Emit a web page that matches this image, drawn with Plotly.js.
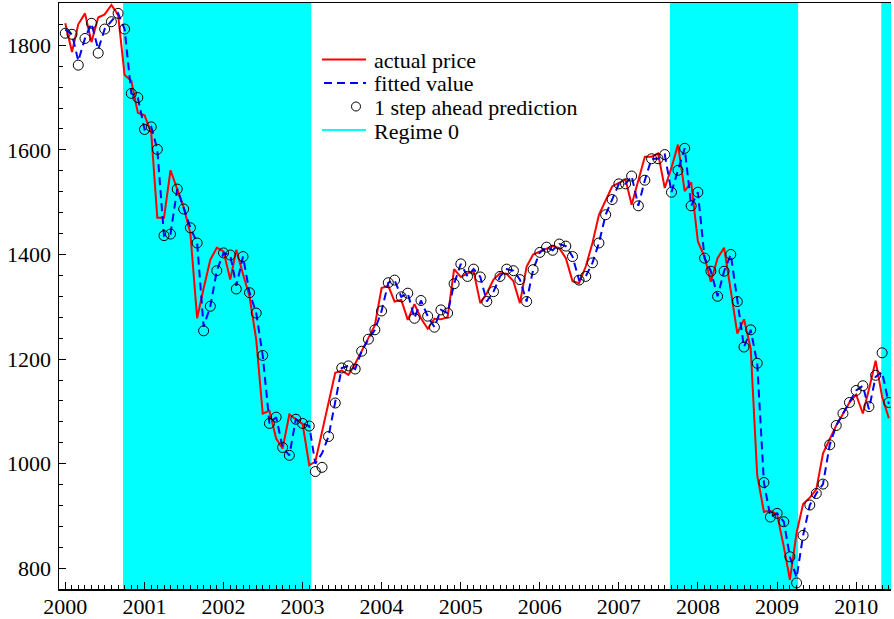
<!DOCTYPE html>
<html><head><meta charset="utf-8">
<script src="https://cdn.plot.ly/plotly-3.0.1.min.js"></script>
<style>html,body{margin:0;padding:0;background:#fff}#chart{width:894px;height:619px}</style>
</head><body><div id="chart"></div>
<script>
// Monthly observations, Jan 2000 .. Jun 2010
const firstYear = 2000;
const actualPrice = [
 1842,1787,1840,1861,1806,1853,1859,1877,1858,1743,1732,1671,
 1666,1633,1470,1470,1561,1524,1490,1440,1278,1335,1390,1413,
 1406,1352,1409,1362,1320,1237,1096,1101,1048,1029,1094,1085,
 1076,997,1004,1061,1117,1174,1178,1170,1191,1214,1240,1265,
 1336,1340,1310,1313,1275,1305,1278,1258,1277,1276,1280,1372,
 1357,1364,1368,1307,1326,1352,1364,1363,1349,1307,1377,1400,
 1406,1412,1416,1412,1393,1349,1345,1377,1422,1476,1502,1530,
 1537,1543,1495,1540,1587,1587,1593,1527,1566,1610,1521,1538,
 1425,1395,1348,1393,1413,1331,1249,1276,1220,978,908,910,
 903,841,778,868,923,935,951,1020,1048,1073,1095,1117,
 1132,1096,1142,1197,1128,1087
];
const fittedValue = [
 1830,1821,1770,1813,1842,1792,1831,1845,1861,1831,1708,1700,
 1639,1644,1601,1436,1439,1525,1487,1451,1422,1262,1301,1369,
 1403,1399,1340,1396,1327,1288,1207,1077,1089,1031,1016,1085,
 1077,1072,1000,1020,1052,1116,1183,1187,1181,1215,1238,1256,
 1292,1346,1351,1319,1326,1278,1312,1282,1261,1294,1288,1344,
 1382,1358,1372,1357,1310,1329,1358,1372,1369,1352,1310,1371,
 1404,1414,1408,1420,1416,1396,1351,1358,1384,1422,1476,1505,
 1535,1535,1550,1493,1542,1583,1583,1591,1519,1561,1603,1493,
 1519,1393,1368,1320,1368,1400,1310,1223,1256,1192,964,898,
 905,889,822,782,863,921,943,961,1036,1073,1096,1117,
 1140,1149,1104,1166,1175,1114
];
const prediction = [
 1823,1821,1762,1813,1842,1785,1831,1845,1861,1831,1708,1700,
 1639,1644,1601,1436,1439,1525,1487,1451,1422,1254,1301,1369,
 1403,1399,1334,1396,1327,1288,1207,1077,1089,1031,1016,1085,
 1077,1072,985,993,1052,1116,1183,1187,1181,1215,1238,1256,
 1292,1346,1351,1319,1326,1278,1312,1282,1261,1294,1288,1344,
 1382,1358,1372,1357,1310,1329,1358,1372,1369,1352,1310,1371,
 1404,1414,1408,1420,1416,1396,1351,1358,1384,1422,1476,1505,
 1535,1535,1550,1493,1542,1583,1583,1591,1519,1561,1603,1493,
 1519,1393,1368,1320,1368,1400,1310,1223,1256,1192,964,898,
 905,889,822,772,863,921,943,961,1036,1073,1096,1117,
 1140,1149,1109,1169,1212,1117
];
const regimeStart = ['2000-09-24','2007-08-25','2010-04-27'];
const regimeEnd   = ['2003-02-10','2009-04-08','2010-06-11'];
const legendLabels = ['actual price','fitted value','1 step ahead prediction','Regime 0'];
const yTickVals = [800,1000,1200,1400,1600,1800];

const months = actualPrice.map((_, i) => {
  const y = firstYear + Math.floor(i / 12);
  const m = (i % 12) + 1;
  return y + '-' + String(m).padStart(2, '0') + '-01';
});

const serif = 'Liberation Serif, Times New Roman, serif';

const traces = [
  {x: months, y: actualPrice, type: 'scatter', mode: 'lines', name: legendLabels[0],
   line: {color: '#ff0000', width: 2}, hoverinfo: 'skip'},
  {x: months, y: fittedValue, type: 'scatter', mode: 'lines', name: legendLabels[1],
   line: {color: '#0000ff', width: 2, dash: '8px,5px'}, hoverinfo: 'skip'},
  {x: months, y: prediction, type: 'scatter', mode: 'markers', name: legendLabels[2],
   marker: {symbol: 'circle-open', size: 10, color: '#000', line: {color: '#000', width: 1}}, hoverinfo: 'skip'}
];

// plot-area pixel helpers for the hand-placed legend
const L = 59, R = 891, T = 3, B = 589;
const px = v => (v - L) / (R - L);
const py = v => (B - v) / (B - T);
const rowY = [59.5, 83, 106.5, 130];

const shapes = regimeStart.map((s, k) => ({
  type: 'rect', xref: 'x', yref: 'paper', x0: s, x1: regimeEnd[k], y0: 0, y1: 1,
  fillcolor: '#00ffff', line: {width: 0}, layer: 'below'
}));
shapes.push({type: 'line', xref: 'paper', yref: 'paper', x0: px(322), x1: px(366), y0: py(rowY[0]), y1: py(rowY[0]), line: {color: '#ff0000', width: 2}});
shapes.push({type: 'line', xref: 'paper', yref: 'paper', x0: px(324), x1: px(366), y0: py(rowY[1]), y1: py(rowY[1]), line: {color: '#0000ff', width: 2, dash: '8px,5px'}});
shapes.push({type: 'circle', xref: 'paper', yref: 'paper', xsizemode: 'pixel', ysizemode: 'pixel',
  xanchor: px(356), yanchor: py(rowY[2]), x0: -4.5, x1: 4.5, y0: -4.5, y1: 4.5, line: {color: '#000', width: 1}});
shapes.push({type: 'line', xref: 'paper', yref: 'paper', x0: px(322), x1: px(366), y0: py(rowY[3]), y1: py(rowY[3]), line: {color: '#00ffff', width: 2}});

const annotations = legendLabels.map((t, k) => ({
  xref: 'paper', yref: 'paper', x: px(372), y: py(rowY[k] + 1), xanchor: 'left', yanchor: 'middle',
  text: t, showarrow: false, font: {family: serif, size: 22, color: '#000'}
}));

const layout = {
  width: 894, height: 619,
  margin: {l: L, r: 894 - R, t: T, b: 619 - B},
  paper_bgcolor: '#fff', plot_bgcolor: '#fff',
  showlegend: false,
  xaxis: {
    type: 'date', range: ['1999-12-03', '2010-06-11'],
    tick0: '2000-01-01', dtick: 'M12', tickformat: '%Y',
    ticks: 'inside', ticklen: 7, tickwidth: 1, tickcolor: '#000',
    minor: {dtick: 'M1', ticks: 'inside', ticklen: 4, tickwidth: 1, tickcolor: '#000', showgrid: false},
    showline: true, linecolor: '#000', linewidth: 1.5, mirror: true,
    showgrid: false, zeroline: false, ticklabelstandoff: -3,
    tickfont: {family: serif, size: 22, color: '#000'}
  },
  yaxis: {
    range: [760.4, 1880.8], tickvals: yTickVals, 
    ticks: 'inside', ticklen: 7, tickwidth: 1, tickcolor: '#000',
    minor: {dtick: 40, tick0: 800, ticks: 'inside', ticklen: 4, tickwidth: 1, tickcolor: '#000', showgrid: false},
    showline: true, linecolor: '#000', linewidth: 1.5, mirror: false,
    showgrid: false, zeroline: false, ticklabelstandoff: 2,
    tickfont: {family: serif, size: 22, color: '#000'}
  },
  shapes: shapes,
  annotations: annotations
};

Plotly.newPlot('chart', traces, layout, {staticPlot: true, displayModeBar: false});
</script>
</body></html>
